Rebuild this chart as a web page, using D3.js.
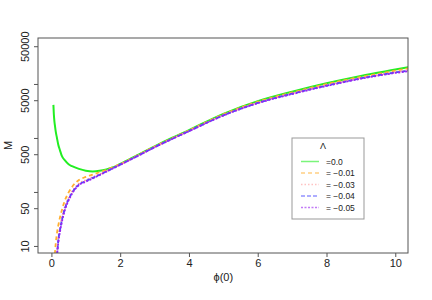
<!DOCTYPE html>
<html>
<head>
<meta charset="utf-8">
<script src="https://cdn.jsdelivr.net/npm/d3@7"></script>
<style>
  body { margin: 0; background: #fff; }
  svg { font-family: "Liberation Sans", Arial, sans-serif; }
</style>
</head>
<body>
<svg id="chart" width="432" height="300"></svg>
<script>
// values
var phi = [0.058, 0.07, 0.085, 0.1, 0.125, 0.16, 0.2, 0.25, 0.3, 0.4, 0.5, 0.6, 0.8, 1.0, 1.2, 1.4, 1.6, 1.8, 2.0, 2.5, 3, 3.5, 4, 5, 6, 7, 8, 9, 10, 10.4];
var lam0  = [4100, 2800, 2100, 1740, 1320, 1010, 750, 590, 470, 380, 325, 300, 268, 248, 240, 246, 262, 288, 330, 480, 700, 1000, 1400, 2800, 4800, 7200, 10300, 14100, 18500, 20600];
var lam01 = [null, null, null, 7, 11, 17, 24, 34, 45, 72, 98, 124, 166, 190, 210, 232, 257, 290, 328, 475, 690, 980, 1380, 2740, 4680, 6950, 9950, 13500, 17600, 19600];
var lam03 = [null, null, null, null, 5.5, 8, 14, 22, 32, 55, 78, 101, 142, 165, 188, 213, 245, 280, 322, 467, 680, 965, 1350, 2660, 4520, 6700, 9500, 12900, 16600, 18200];
var lam04 = [null, null, null, null, 4, 6, 12.5, 20, 29, 51, 73, 96, 137, 159, 182, 208, 240, 277, 320, 462, 674, 955, 1340, 2620, 4450, 6600, 9300, 12700, 16300, 17700];
var lam05 = [null, null, null, null, null, 6.5, 11.5, 18.5, 27, 48, 70, 93, 134, 155, 178, 205, 238, 275, 318, 460, 670, 950, 1330, 2600, 4400, 6500, 9200, 12500, 16000, 17300];
var seriesNames = ["=0.0", "= \u22120.01", "= \u22120.03", "= \u22120.04", "= \u22120.05"];
var seriesColors = ["#22ee22", "#ffb030", "#ff9a9a", "#4a4aff", "#9a22f0"];
var seriesDash = [null, "4,3", "1.5,2", "4,2", "2,1.5"];
var xTicks = [0, 2, 4, 6, 8, 10];
var yTicks = [10, 50, 100, 500, 1000, 5000, 10000, 50000];
var yLabels = [10, 50, 500, 5000, 50000];

var allSeries = [lam0, lam01, lam03, lam04, lam05];

var margin = {top: 38, right: 24, bottom: 47, left: 38};
var width = 432, height = 300;

var svg = d3.select("#chart");

var x = d3.scaleLinear().domain([-0.39, 10.37]).range([margin.left, width - margin.right]);
var y = d3.scaleLog().domain([7.4, 71000]).range([height - margin.bottom, margin.top]);

svg.append("clipPath").attr("id", "clip")
  .append("rect")
  .attr("x", margin.left).attr("y", margin.top)
  .attr("width", width - margin.left - margin.right)
  .attr("height", height - margin.top - margin.bottom);

var line = d3.line()
  .defined(function (d) { return d[1] != null; })
  .x(function (d) { return x(d[0]); })
  .y(function (d) { return y(d[1]); })
  .curve(d3.curveMonotoneX);

var lines = svg.append("g").attr("clip-path", "url(#clip)");
allSeries.forEach(function (s, i) {
  var pts = phi.map(function (p, j) { return [p, s[j]]; });
  lines.append("path")
    .attr("d", line(pts))
    .attr("fill", "none")
    .attr("stroke", seriesColors[i])
    .attr("stroke-width", i == 0 ? 2 : 1.8)
    .attr("stroke-dasharray", seriesDash[i]);
});

// box
svg.append("rect")
  .attr("x", margin.left).attr("y", margin.top)
  .attr("width", width - margin.left - margin.right)
  .attr("height", height - margin.top - margin.bottom)
  .attr("fill", "none").attr("stroke", "#555").attr("stroke-width", 1);

// x axis
var xAxis = d3.axisBottom(x).tickValues(xTicks).tickSize(4).tickPadding(2).tickFormat(d3.format("d"));
var gx = svg.append("g").attr("transform", "translate(0," + (height - margin.bottom) + ")").call(xAxis);
gx.select(".domain").remove();
gx.selectAll("line").attr("stroke", "#555");
gx.selectAll("text").attr("font-size", 11).attr("fill", "#222")
  .attr("font-family", "Liberation Sans, Arial, sans-serif");

// y axis
var yAxis = d3.axisLeft(y).tickValues(yTicks).tickSize(4)
  .tickFormat(function (d) { return yLabels.indexOf(d) >= 0 ? String(d) : ""; });
var gy = svg.append("g").attr("transform", "translate(" + margin.left + ",0)").call(yAxis);
gy.select(".domain").remove();
gy.selectAll("line").attr("stroke", "#555");
gy.selectAll("text")
  .attr("font-size", 11).attr("fill", "#222")
  .attr("font-family", "Liberation Sans, Arial, sans-serif")
  .attr("x", 0).attr("dy", 0)
  .attr("text-anchor", "middle")
  .attr("transform", "translate(-9,0) rotate(-90)");

// axis titles
svg.append("text").attr("x", x(5)).attr("y", 281)
  .attr("text-anchor", "middle").attr("font-size", 11).attr("fill", "#222")
  .text("\u03d5(0)");
svg.append("text")
  .attr("transform", "translate(12," + ((margin.top + height - margin.bottom) / 2) + ") rotate(-90)")
  .attr("text-anchor", "middle").attr("font-size", 11).attr("fill", "#222")
  .text("M");

// legend
var lg = svg.append("g").attr("transform", "translate(292,138)");
lg.append("rect").attr("width", 72).attr("height", 81)
  .attr("fill", "#fff").attr("stroke", "#999").attr("stroke-width", 1);
lg.append("text").attr("x", 31).attr("y", 11).attr("text-anchor", "middle")
  .attr("font-size", 9).attr("fill", "#222").text("\u039b");
seriesNames.forEach(function (nm, i) {
  var yy = 23.5 + i * 11.5;
  lg.append("line").attr("x1", 9).attr("x2", 27).attr("y1", yy).attr("y2", yy)
    .attr("stroke", seriesColors[i]).attr("stroke-opacity", 0.6)
    .attr("stroke-width", 1.5).attr("stroke-dasharray", seriesDash[i]);
  lg.append("text").attr("x", 34).attr("y", yy + 3).attr("font-size", 8.5)
    .attr("fill", "#222").text(nm);
});
</script>
</body>
</html>
